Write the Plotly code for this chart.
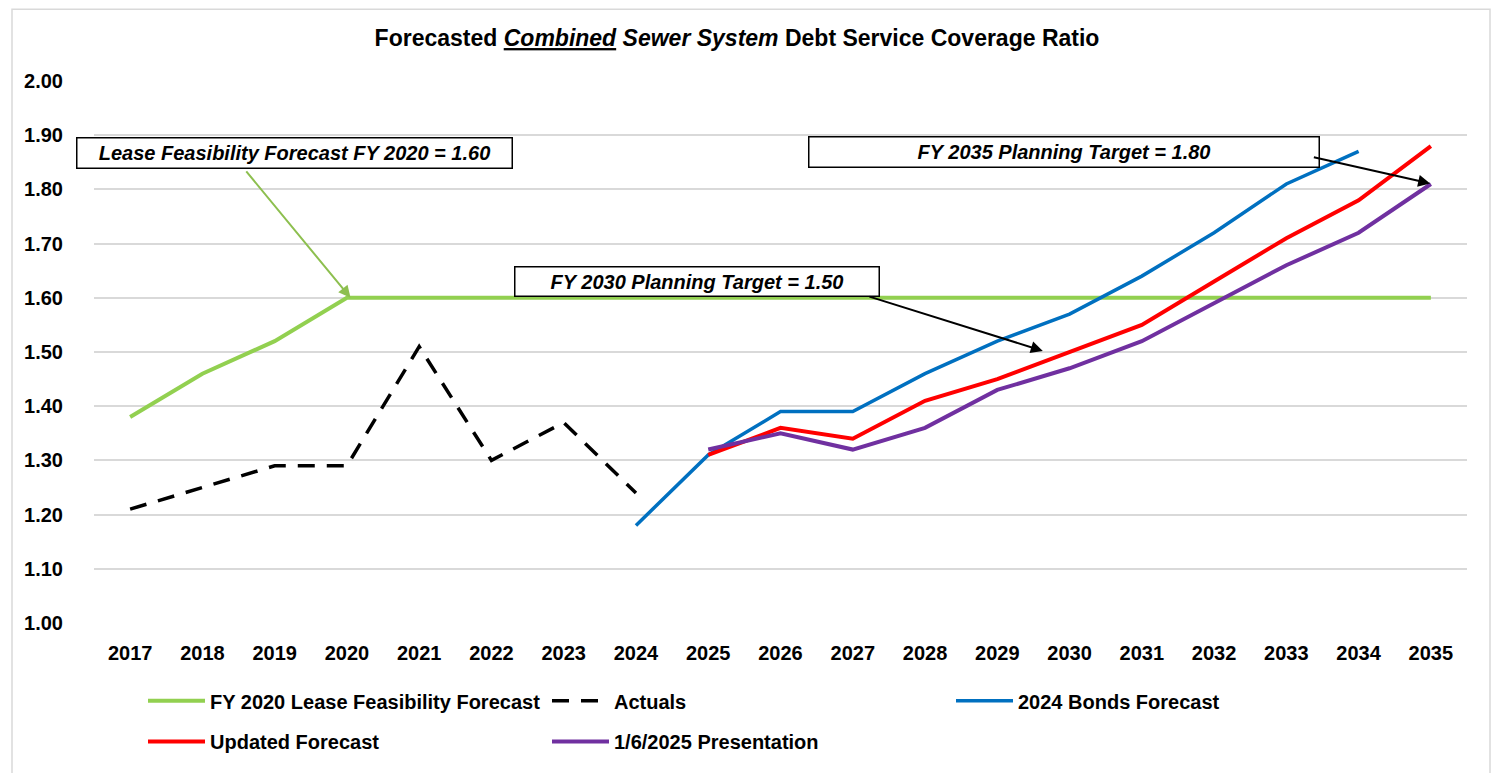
import plotly.graph_objects as go

# ---------------- data ----------------
years = [2017, 2018, 2019, 2020, 2021, 2022, 2023, 2024, 2025, 2026,
         2027, 2028, 2029, 2030, 2031, 2032, 2033, 2034, 2035]
year_labels = [str(y) for y in years]

lease_years = years
lease_forecast = [1.38, 1.46, 1.52, 1.60, 1.60, 1.60, 1.60, 1.60, 1.60, 1.60,
                  1.60, 1.60, 1.60, 1.60, 1.60, 1.60, 1.60, 1.60, 1.60]

actual_years = [2017, 2018, 2019, 2020, 2021, 2022, 2023, 2024]
actuals = [1.21, 1.25, 1.29, 1.29, 1.51, 1.30, 1.37, 1.24]

bonds_years = [2024, 2025, 2026, 2027, 2028, 2029, 2030, 2031, 2032, 2033, 2034]
bonds_2024 = [1.18, 1.31, 1.39, 1.39, 1.46, 1.52, 1.57, 1.64, 1.72, 1.81, 1.87]

fc_years = [2025, 2026, 2027, 2028, 2029, 2030, 2031, 2032, 2033, 2034, 2035]
updated = [1.31, 1.36, 1.34, 1.41, 1.45, 1.50, 1.55, 1.63, 1.71, 1.78, 1.88]
presentation = [1.32, 1.35, 1.32, 1.36, 1.43, 1.47, 1.52, 1.59, 1.66, 1.72, 1.81]

y_ticks = [1.00, 1.10, 1.20, 1.30, 1.40, 1.50, 1.60, 1.70, 1.80, 1.90, 2.00]

FONT = "Liberation Sans Narrow, Arial Narrow, Liberation Sans, Arial, sans-serif"

# the page body has an 8px margin; figure is sized so the plot lands where the reference has it
W, H = 1493, 765
ML, MR, MT, MB = 86, 34, 73, 148
PW = W - ML - MR      # 1373
PH = H - MT - MB      # 544

fig = go.Figure()
fig.add_trace(go.Scatter(x=lease_years, y=lease_forecast, mode="lines",
                         name="<b>FY 2020 Lease Feasibility Forecast</b>",
                         line=dict(color="#92D050", width=4), legend="legend"))
fig.add_trace(go.Scatter(x=actual_years, y=actuals, mode="lines",
                         name="<b>Actuals</b>",
                         line=dict(color="#000000", width=3.5, dash="17px,12px"), legend="legend"))
fig.add_trace(go.Scatter(x=bonds_years, y=bonds_2024, mode="lines",
                         name="<b>2024 Bonds Forecast</b>",
                         line=dict(color="#0070C0", width=3.5), legend="legend"))
fig.add_trace(go.Scatter(x=fc_years, y=updated, mode="lines",
                         name="<b>Updated Forecast</b>",
                         line=dict(color="#FF0000", width=4), legend="legend2"))
fig.add_trace(go.Scatter(x=fc_years, y=presentation, mode="lines",
                         name="<b>1/6/2025 Presentation</b>",
                         line=dict(color="#7030A0", width=4), legend="legend2"))

# annotation boxes
box_font = dict(family=FONT, size=20, color="#000000")
boxes = [
    ("<b><i>Lease Feasibility Forecast FY 2020 = 1.60</i></b>", 2019.28, 1.867, 434, 29),
    ("<b><i>FY 2030 Planning Target = 1.50</i></b>", 2024.85, 1.6305, 363, 28),
    ("<b><i>FY 2035 Planning Target = 1.80</i></b>", 2029.92, 1.8686, 509, 29),
]
for text, bx, by, w, h in boxes:
    fig.add_annotation(x=bx, y=by, xref="x", yref="y", text=text, showarrow=False,
                       font=box_font, width=w, height=h, align="center", valign="middle",
                       bgcolor="#FFFFFF", bordercolor="#000000", borderwidth=1.5, borderpad=0)

arrows = [
    (2018.59, 1.836, 2020.05, 1.600, "#8DBF4F"),
    (2027.21, 1.603, 2029.63, 1.502, "#000000"),
    (2033.36, 1.860, 2034.99, 1.811, "#000000"),
]
for tx, ty, hx, hy, col in arrows:
    fig.add_annotation(x=hx, y=hy, ax=tx, ay=ty, xref="x", yref="y", axref="x", ayref="y",
                       text="", showarrow=True, arrowhead=2, arrowsize=1.2, arrowwidth=2,
                       arrowcolor=col, standoff=0, startstandoff=0)

# outer light frame
fig.add_shape(type="rect", xref="paper", yref="paper",
              x0=(4 - ML) / PW, x1=(1482 - ML) / PW,
              y0=-(H + 10 - (MT + PH)) / PH, y1=(MT + PH - 1) / PH,
              line=dict(color="#D9D9D9", width=1.5), fillcolor="rgba(0,0,0,0)", layer="below")

tick_font = dict(family=FONT, size=20, color="#000000", weight="bold")
leg_font = dict(family=FONT, size=20, color="#000000")

fig.update_layout(
    width=W, height=H,
    margin=dict(l=ML, r=MR, t=MT, b=MB),
    paper_bgcolor="#FFFFFF", plot_bgcolor="#FFFFFF",
    font=dict(family=FONT, size=17, color="#000000"),
    title=dict(text="<b>Forecasted <i><u>Combined</u></i> <i>Sewer System</i> Debt Service Coverage Ratio</b>",
               x=729 / W, xanchor="center", y=1 - 30 / H, yanchor="middle", yref="container",
               font=dict(family=FONT, size=23, color="#000000")),
    xaxis=dict(range=[2016.5, 2035.5], tickmode="array", tickvals=years, ticktext=year_labels,
               showgrid=False, zeroline=False, showline=False,
               ticks="outside", ticklen=12, tickcolor="rgba(0,0,0,0)", tickfont=tick_font),
    yaxis=dict(range=[1.0, 2.0], tickmode="array", tickvals=y_ticks,
               tickformat=".2f", showgrid=True, gridcolor="#D9D9D9", gridwidth=1.5,
               zeroline=False, showline=False,
               ticks="outside", ticklen=26, tickcolor="rgba(0,0,0,0)", tickfont=tick_font),
    legend=dict(orientation="h", x=49 / PW, xanchor="left",
                y=-(703 - 625) / PH, yanchor="middle",
                entrywidth=332, entrywidthmode="pixels", itemwidth=57,
                font=leg_font, bgcolor="rgba(0,0,0,0)"),
    legend2=dict(orientation="h", x=49 / PW, xanchor="left",
                 y=-(744 - 625) / PH, yanchor="middle",
                 entrywidth=332, entrywidthmode="pixels", itemwidth=57,
                 font=leg_font, bgcolor="rgba(0,0,0,0)"),
    showlegend=True,
)

fig.write_html("out.html")
